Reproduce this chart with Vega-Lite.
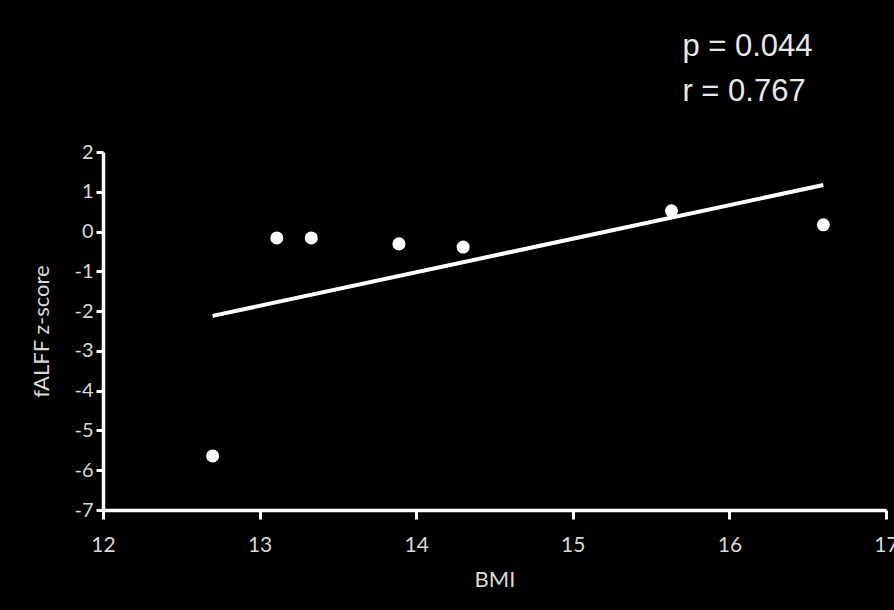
{
  "$schema": "https://vega.github.io/schema/vega-lite/v6.json",
  "width": 783,
  "height": 358,
  "autosize": {"type": "none"},
  "padding": {"left": 103, "top": 152, "right": 8, "bottom": 100},
  "background": "black",
  "config": {"view": {"stroke": null}},
  "datasets": {
    "pts": [
      {"bmi": 12.7, "z": -5.64},
      {"bmi": 13.11, "z": -0.16},
      {"bmi": 13.33, "z": -0.16},
      {"bmi": 13.89, "z": -0.31},
      {"bmi": 14.3, "z": -0.39},
      {"bmi": 15.63, "z": 0.52},
      {"bmi": 16.6, "z": 0.17}
    ],
    "fit": [
      {"bmi": 12.7, "z": -2.12},
      {"bmi": 16.6, "z": 1.17}
    ],
    "stats": [
      {"bmi": 15.7, "z": 4.64, "label": "p = 0.044"},
      {"bmi": 15.7, "z": 3.52, "label": "r = 0.767"}
    ]
  },
  "encoding": {
    "x": {
      "field": "bmi", "type": "quantitative",
      "scale": {"domain": [12, 17], "nice": false, "zero": false},
      "axis": {
        "title": "BMI", "values": [12, 13, 14, 15, 16, 17],
        "labelExpr": "'' + datum.value",
        "labelOverlap": false,
        "grid": false, "domainColor": "white", "domainWidth": 3.5,
        "tickColor": "white", "tickWidth": 3, "tickSize": 9,
        "labelColor": "#d8d8d8", "labelFont": "Lato", "labelFontSize": 21,
        "labelPadding": 15, "labelFlush": false,
        "titleColor": "#d8d8d8", "titleFont": "Lato", "titleFontSize": 22,
        "titleFontWeight": "normal", "titlePadding": 14
      }
    },
    "y": {
      "field": "z", "type": "quantitative",
      "scale": {"domain": [-7, 2], "nice": false, "zero": false},
      "axis": {
        "title": "fALFF z-score", "values": [-7, -6, -5, -4, -3, -2, -1, 0, 1, 2],
        "labelExpr": "'' + datum.value",
        "labelOverlap": false,
        "grid": false, "domainColor": "white", "domainWidth": 3.5,
        "tickColor": "white", "tickWidth": 3, "tickSize": 7,
        "labelColor": "#d8d8d8", "labelFont": "Lato", "labelFontSize": 20,
        "labelPadding": 3, "labelFlush": false,
        "titleColor": "#d8d8d8", "titleFont": "Lato", "titleFontSize": 22,
        "titleFontWeight": "normal", "titlePadding": 20
      }
    }
  },
  "layer": [
    {
      "data": {"name": "fit"},
      "mark": {"type": "line", "color": "white", "strokeWidth": 4}
    },
    {
      "data": {"name": "pts"},
      "mark": {"type": "circle", "color": "white", "opacity": 1, "size": 170}
    },
    {
      "data": {"name": "stats"},
      "mark": {"type": "text", "color": "#e8e8e8", "font": "Liberation Sans", "fontSize": 31, "align": "left", "baseline": "middle", "clip": false},
      "encoding": {
        "text": {"field": "label"}
      }
    }
  ]
}
